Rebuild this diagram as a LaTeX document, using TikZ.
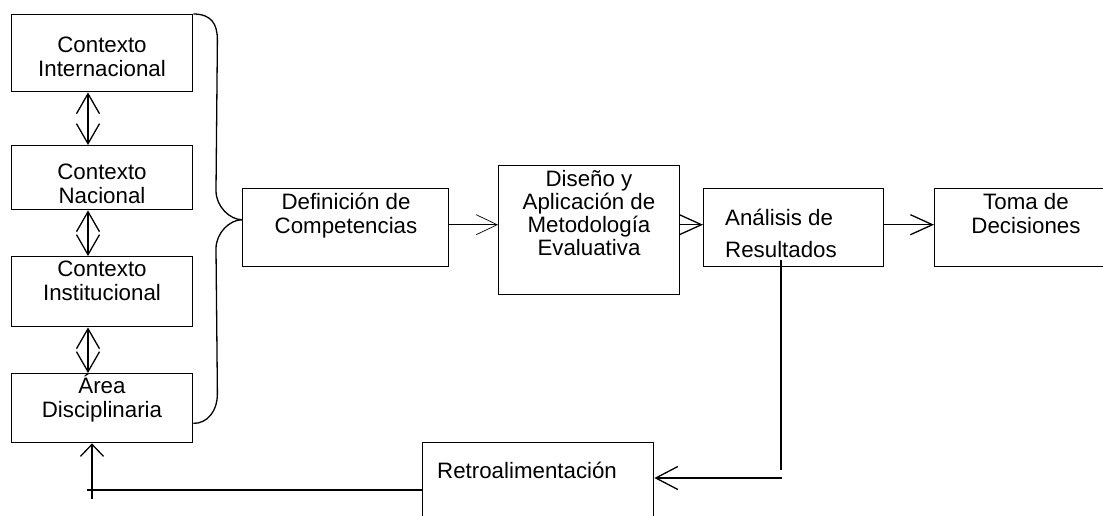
\documentclass[tikz,border=0pt]{standalone}
\usepackage{fontspec}
\setmainfont{Liberation Sans}
\usetikzlibrary{arrows.meta,calc}
\begin{document}
\begin{tikzpicture}[x=1pt,y=-1pt,
  box/.style={draw,line width=1.4pt,rectangle,inner sep=0pt,anchor=north west},
  txt/.style={font=\fontsize{22.3}{24}\selectfont,align=center,inner sep=0pt,anchor=base},
  con/.style={line width=1.3pt},
  dbl/.style={con,{Straight Barb[length=20pt,width=23pt]}-{Straight Barb[length=20pt,width=23pt]}}]
\useasboundingbox (0,0) rectangle (1103,515);
% boxes
\node[box,minimum width=181pt,minimum height=77pt] (ci) at (11,14) {};
\node[box,minimum width=181pt,minimum height=64pt] (cn) at (11,145) {};
\node[box,minimum width=181pt,minimum height=70pt] (cin) at (11,256) {};
\node[box,minimum width=181pt,minimum height=69pt] (ad) at (11,373) {};
\node[box,minimum width=206pt,minimum height=78pt] (def) at (242,188) {};
\node[box,minimum width=181pt,minimum height=129pt] (dis) at (498,165) {};
\node[box,minimum width=180pt,minimum height=78pt] (an) at (703,188) {};
\node[box,minimum width=190pt,minimum height=78pt] (tom) at (934,188) {};
\node[box,minimum width=231pt,minimum height=100pt] (ret) at (422,442) {};
% texts
\node[txt] (tci) at (102,76) {Contexto\\Internacional};
\node[txt] (tcn) at (102,203) {Contexto\\Nacional};
\node[txt] (tcin) at (102,300) {Contexto\\Institucional};
\node[txt] (tad) at (102,417) {Área\\Disciplinaria};
\node[txt] (tdef) at (346,233) {Definición de\\Competencias};
\node[txt,font=\fontsize{22.3}{22.7}\selectfont] (tdis) at (589,255) {Diseño y\\Aplicación de\\Metodología\\Evaluativa};
\node[txt,align=left,anchor=base west] (tan) at (725,257) {Análisis de\\[8pt]Resultados};
\node[txt] (ttom) at (1026,233) {Toma de\\Decisiones};
\node[txt,anchor=base west] (tret) at (437,478) {Retroalimentación};
% double arrows between contexts
\draw[dbl] ([xshift=77pt]ci.south west) -- ([xshift=77pt]cn.north west);
\draw[dbl] ([xshift=77pt]cn.south west) -- ([xshift=77pt]cin.north west);
\draw[dbl] ([xshift=77pt]cin.south west) -- ([xshift=77pt]ad.north west);
% brace
\coordinate (tip) at ([yshift=8pt]def.west);
\coordinate (bb) at ([yshift=20pt]ad.south east);
\draw[con] (ci.north east) .. controls +(18,0) and +(0,-16) .. ++(24,26)
  -- ($(tip)+(-26,-29)$) .. controls +(0,16) and +(-12,0) .. (tip);
\draw[con] (tip) .. controls +(-12,0) and +(0,-16) .. ($(tip)+(-26,29)$)
  -- ($(bb)+(24,-30)$) .. controls +(0,18) and +(14,0) .. (bb);
% main flow
\coordinate (d1) at ([yshift=3pt]def.east);
\coordinate (a1) at ([yshift=3pt]an.east);
\draw[line width=0.7pt,-{Straight Barb[length=21pt,width=20pt]}] (d1) -- (d1 -| dis.west);
\draw[con,-{Straight Barb[length=22pt,width=20pt]}] (d1 -| dis.east) -- (d1 -| an.west);
\draw[con,-{Straight Barb[length=22pt,width=20pt]}] (a1) -- (a1 -| tom.west);
% feedback
\coordinate (fa) at (781,260);
\coordinate (fb) at (781,470);
\coordinate (fh) at (782,478);
\draw[con] (fa) -- (fb);
\draw[con,-{Straight Barb[length=22pt,width=23pt]}] (fh) -- (fh -| ret.east);
\coordinate (fl) at (87,490);
\draw[con] (fl -| ret.west) -- (fl);
\coordinate (fu) at (92,499);
\draw[con,-{Straight Barb[length=12pt,width=23pt]}] (fu) -- (fu |- ad.south);
\end{tikzpicture}
\end{document}
